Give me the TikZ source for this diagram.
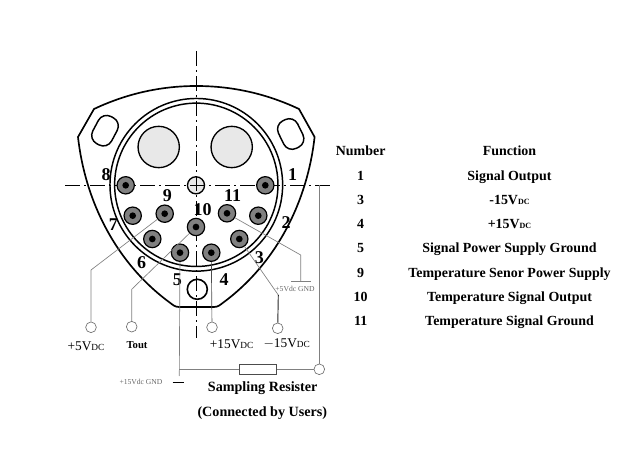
\documentclass[tikz,border=0pt]{standalone}
\usepackage{fontspec}
\setmainfont{Liberation Serif}
\tikzset{
	pin/.style={circle,draw=black,line width=0.9pt,fill=black!50,minimum size=13pt,inner sep=0pt},
	pindot/.style={circle,fill=black,minimum size=5pt,inner sep=0pt},
	hole/.style={circle,draw=black,line width=1pt,inner sep=0pt},
	ring/.style={circle,draw=black,line width=1.1pt,inner sep=0pt},
	slot/.style={draw=black,line width=1.1pt,rounded corners=7pt,minimum width=23pt,minimum height=16pt,inner sep=0pt},
	term/.style={circle,draw=black!55,line width=0.5pt,fill=white,minimum size=8pt,inner sep=0pt},
	wire/.style={draw=black!50,line width=0.5pt},
	axis/.style={line width=0.7pt,dash pattern=on 11pt off 3.14pt on 1.5pt off 3.14pt},
	pinnum/.style={font=\fontsize{13.5}{14}\selectfont\bfseries,inner sep=0pt},
	cell/.style={font=\fontsize{10.45}{12}\selectfont\bfseries,inner sep=0pt,text height=7pt,text depth=2pt},
	volt/.style={font=\fontsize{10}{12}\selectfont,inner sep=0pt},
	gnd/.style={font=\fontsize{5.7}{6}\selectfont,text=black!60,inner sep=0pt},
}
\newcommand{\dcsub}{\fontsize{7}{8}\selectfont DC}
\newcommand{\dctab}{\fontsize{6}{7}\selectfont DC}
\begin{document}
\begin{tikzpicture}[x=0.75pt,y=-0.75pt]
	\useasboundingbox (0,0) rectangle (633,474);
	% housing
	\draw[line width=1.25pt,line join=round] (94,109) .. controls (130,92) and (165,86) .. (196.3,86)
		.. controls (228,86) and (263,92) .. (299,109) -- (314.6,137)
		.. controls (307.6,200) and (277.6,262) .. (224,302)
		.. controls (220,305) and (218,307) .. (214,307) -- (179,307)
		.. controls (175,307) and (173,305) .. (169,302)
		.. controls (115,262) and (85,200) .. (78,137) -- cycle;
	\node[ring,minimum size=129.5pt] (rim1) at (196.3,184.8){};
	\node[ring,minimum size=122.5pt] (rim2) at (196.3,184.8){};
	\node[slot,rotate=62] (slot1) at (105,130.7){};
	\node[slot,rotate=-64] (slot2) at (290.7,134){};
	\node[hole,fill=black!9,minimum size=31pt] (key1) at (158.7,147){};
	\node[hole,fill=black!9,minimum size=31pt] (key2) at (231.7,147){};
	\node[hole,fill=black!9,minimum size=12.8pt] (mid) at (196,185.3){};
	\node[hole,fill=white,line width=1.2pt,minimum size=15pt] (low) at (197.3,289.3){};
	% axes
	\coordinate (axl) at (65,185.3);
	\coordinate (axr) at (330,185.3);
	\coordinate (axt) at (196,51);
	\coordinate (axb) at (196,338);
	\draw[axis] (axl) -- (axr);
	\draw[axis] (axt) -- (axb);
	% pins
	\foreach \n/\x/\y in {1/265.3/185.3,2/258.3/215.7,3/239.3/239,4/211.3/252.7,5/180/252.7,6/152.3/239,7/132.7/215.7,8/125.7/185.3,9/164.7/213.7,10/196/227,11/227/213.3}{
		\node[pin] (p\n) at (\x,\y){};
		\node[pindot] (d\n) at (p\n){};
	}
	% pin numbers
	\foreach \n/\x/\y in {1/292.7/175,2/286/223,3/259.3/257.3,4/224/280,5/177.3/280,6/141.7/262.7,7/113.3/225,8/106/175,9/167.3/195.3,10/202.7/209.3,11/232.7/195.7}{
		\node[pinnum] (n\n) at (\x,\y){\n};
	}
	% terminals
	\node[term] (t5v) at (91,327.3){};
	\node[term] (tout) at (131.7,326.7){};
	\node[term] (t15p) at (212,327.3){};
	\node[term] (t15n) at (277.7,328.3){};
	\node[term] (tres) at (319.3,369.3){};
	\node[volt] (l5v) at (86,346){+5V{\dcsub}};
	\node[inner sep=0pt,font=\fontsize{8}{9}\selectfont\bfseries] (ltout) at (137,345){Tout};
	\node[volt] (l15p) at (231.7,344){+15V{\dcsub}};
	\node[volt] (l15n) at (286.7,344){$-$15V{\dcsub}};
	% wires
	\coordinate (b9) at (91,270);
	\coordinate (b10) at (131.7,289.3);
	\coordinate (b3) at (278.3,295);
	\coordinate (b11) at (300.7,255);
	\coordinate (g11) at (300.7,281.7);
	\coordinate (g11l) at (291,281.7);
	\coordinate (g11r) at (310.7,281.7);
	\coordinate (j5) at (179.3,369.3);
	\coordinate (e5) at (179.3,376);
	\coordinate (g5l) at (172.7,382.7);
	\coordinate (g5r) at (184,382.7);
	\coordinate (up) at (319.3,185.3);
	\draw[wire] (p9) -- (b9) -- (t5v);
	\draw[wire] (p10) -- (b10) -- (tout);
	\draw[wire,draw=black!70] (p4) -- (t15p);
	\draw[wire] (p3) -- (b3);
	\draw[wire,draw=black!85,line width=0.7pt] (b3) -- (t15n);
	\draw[wire] (p11) -- (b11) -- (g11);
	\draw[wire] (g11l) -- (g11r);
	\node[gnd] (gnd5) at (295,289){+5Vdc GND};
	\draw[wire] (p5) -- (e5);
	\draw[wire,draw=black] (g5l) -- (g5r);
	\node[gnd] (gnd15) at (141,382){+15Vdc GND};
	\node[draw=black!70,line width=0.5pt,minimum width=28pt,minimum height=7.5pt,inner sep=0pt] (res) at (258,369.3){};
	\draw[wire] (j5) -- (res);
	\draw[wire] (res) -- (tres);
	\draw[wire] (tres) -- (up);
	\node[inner sep=0pt,font=\fontsize{10.6}{12}\selectfont\bfseries] (cap1) at (262.7,388.3){Sampling Resister};
	\node[inner sep=0pt,font=\fontsize{10.6}{12}\selectfont\bfseries] (cap2) at (262.3,412.7){(Connected by Users)};
	% table
	\node[cell] (hnum) at (360.7,152){Number};
	\node[cell] (hfun) at (509.5,152){Function};
	\foreach \r/\y/\a/\b in {1/176.7/1/Signal Output,2/201/3/-15V{\dctab},3/225.3/4/+15V{\dctab},4/249.3/5/Signal Power Supply Ground,5/273.7/9/Temperature Senor Power Supply,6/298.3/10/Temperature Signal Output,7/322/11/Temperature Signal Ground}{
		\node[cell] (num\r) at (360.7,\y){\a};
		\node[cell] (fun\r) at (509.5,\y){\b};
	}
\end{tikzpicture}
\end{document}
